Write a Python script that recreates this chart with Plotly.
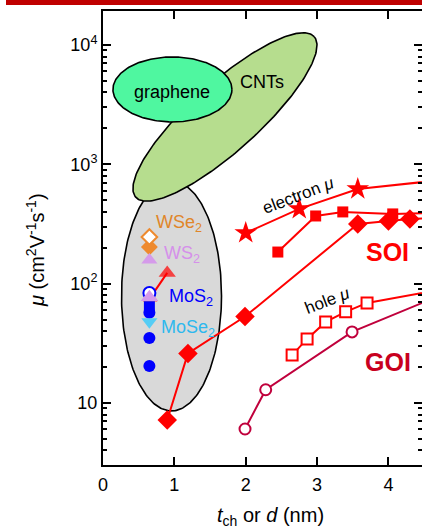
import numpy as np
import plotly.graph_objects as go

# ---------------- data ----------------
# Si-on-insulator, electron mobility (stars, filled squares, filled diamonds)
soi_star_x = [2.0, 2.75, 3.57, 5.0]
soi_star_y = [266, 423, 621, 767]
soi_square_x = [2.45, 2.98, 3.36, 4.06, 4.7]
soi_square_y = [184, 369, 399, 384, 392]
soi_diamond_x = [0.9, 1.19, 1.99, 3.57, 4.0, 4.3, 4.7]
soi_diamond_y = [7.2, 26, 53, 316, 335, 348, 356]

# Si-on-insulator, hole mobility (open squares)
soi_hole_x = [2.65, 2.86, 3.12, 3.40, 3.70, 4.9]
soi_hole_y = [25.2, 34.4, 47.8, 58, 68.9, 93]

# Ge-on-insulator (open circles)
goi_x = [1.99, 2.28, 3.49, 4.9]
goi_y = [6.05, 12.9, 39.4, 88]

# 2D transition-metal dichalcogenides
tmd_x = 0.65
wse2_open_y = [246]
wse2_fill_y = [203]
ws2_y = [158, 77]
mos2_open_y = [83.5]
mos2_square_y = [64]
mos2_fill_y = [57, 35, 20.4]
mose2_y = [48]
red_tri_x = [0.66, 0.9]
red_tri_y = [76, 123]

# axes
x_range = [0, 4.47]
y_range_log = [0.48, 4.285]
x_tickvals = [0, 1, 2, 3, 4]
x_ticktext = ["0", "1", "2", "3", "4"]
y_tickvals = [10, 100, 1000, 10000]
y_ticktext = ["10", "10<sup>2</sup>", "10<sup>3</sup>", "10<sup>4</sup>"]
y_minorvals = [k * 10 ** d for d in range(0, 5) for k in range(2, 10)]

# ---------------- layout geometry ----------------
W, H = 422, 530
M_L, M_R, M_T, M_B = 103, 0, 11, 65
PW, PH = W - M_L - M_R, H - M_T - M_B
PX_PER_X = PW / (x_range[1] - x_range[0])
PX_PER_DEC = PH / (y_range_log[1] - y_range_log[0])

FONT = "Arial, Liberation Sans, sans-serif"
RED = "#FF0000"
GOI_RED = "#C0003C"


def ellipse(cx, cy, a_px, b_px, ang_deg=0.0, n=240):
    """Outline of an ellipse whose size is given in screen pixels,
    returned in data coordinates of the linear-x / log-y axes."""
    t = np.linspace(0, 2 * np.pi, n)
    th = np.deg2rad(ang_deg)
    dx = a_px * np.cos(t) * np.cos(th) - b_px * np.sin(t) * np.sin(th)
    dy = a_px * np.cos(t) * np.sin(th) + b_px * np.sin(t) * np.cos(th)
    xs = cx + dx / PX_PER_X
    ys = 10 ** (np.log10(cy) + dy / PX_PER_DEC)
    return xs, ys


fig = go.Figure()

# material regions
regions = [
    dict(c=(0.96, 78.9), a=50, b=115, ang=0, fill="#D9D9D9"),
    dict(c=(1.709, 2495), a=120, b=34, ang=42, fill="#B6DD8E"),
    dict(c=(0.973, 4240), a=59.5, b=32.5, ang=0, fill="#4FF7A0"),
]
for r in regions:
    ex, ey = ellipse(r["c"][0], r["c"][1], r["a"], r["b"], r["ang"])
    fig.add_trace(go.Scatter(x=ex, y=ey, mode="lines", fill="toself",
                             fillcolor=r["fill"],
                             line=dict(color="black", width=1.6),
                             hoverinfo="skip", showlegend=False))


def series(x, y, symbol, color, size, line=None, fill=True, lw=2, mcolor=None):
    fig.add_trace(go.Scatter(
        x=x, y=y,
        mode="lines+markers" if line else "markers",
        line=dict(color=line, width=lw) if line else None,
        marker=dict(symbol=symbol, size=size,
                    color=(mcolor or color) if fill else "white",
                    line=dict(color=color, width=0 if fill else 2)),
        showlegend=False, cliponaxis=True))


# SOI / GOI curves
series(goi_x, goi_y, "circle", GOI_RED, 11, line=GOI_RED, fill=False)
series(soi_hole_x, soi_hole_y, "square", RED, 11, line=RED, fill=False)
series(soi_diamond_x, soi_diamond_y, "diamond", RED, 15, line=RED)
series(soi_square_x, soi_square_y, "square", RED, 11, line=RED)
series(soi_star_x, soi_star_y, "star", RED, 17, line=RED)

# TMD points
series(red_tri_x, red_tri_y, "triangle-up", RED, 15, line=RED, fill=False)
fig.data[-1].marker.color = ["white", RED]
fig.data[-1].marker.line.width = [1.5, 0]
fig.data[-1].marker.size = [12, 15]
series([tmd_x], wse2_fill_y, "diamond", "#EE8A2E", 13)
series([tmd_x], wse2_open_y, "diamond", "#EE8A2E", 12, fill=False)
series([tmd_x] * 2, ws2_y, "triangle-up", "#D59BEA", 14)
series([tmd_x], mos2_open_y, "circle", "#0000FF", 12, fill=False)
series([tmd_x], [ws2_y[1]], "triangle-up", "#D59BEA", 15)
series([tmd_x], mos2_square_y, "square", "#0000FF", 11)
series([tmd_x] * 3, mos2_fill_y, "circle", "#0000FF", 12)
series([tmd_x], mose2_y, "triangle-down", "#55CDF5", 14)

# right-hand tick marks (no axis line)
fig.add_trace(go.Scatter(x=[None], y=[None], yaxis="y2", showlegend=False,
                         hoverinfo="skip"))


def label(x, y, text, color="black", size=18, xanchor="center", angle=0,
          bold=False):
    fig.add_annotation(x=x, y=np.log10(y), xref="x", yref="y",
                       text=f"<b>{text}</b>" if bold else text,
                       showarrow=False, xanchor=xanchor, yanchor="middle",
                       textangle=angle,
                       font=dict(family=FONT, size=size, color=color))


label(0.966, 10 ** 3.606, "graphene", size=18)
label(2.227, 10 ** 3.690, "CNTs", size=18)
label(0.72, 10 ** 2.508, "WSe<sub>2</sub>", "#E0862A", 18, "left")
label(0.83, 10 ** 2.245, "WS<sub>2</sub>", "#D590EA", 18, "left")
label(0.90, 10 ** 1.880, "MoS<sub>2</sub>", "#0000FF", 18, "left")
label(0.79, 10 ** 1.625, "MoSe<sub>2</sub>", "#2EB8EE", 18, "left")
label(2.74, 10 ** 2.735, "electron <i>μ</i>", size=17, angle=-21)
label(3.15, 10 ** 1.860, "hole <i>μ</i>", size=17, angle=-21)
label(3.98, 10 ** 2.265, "SOI", RED, 25, bold=True)
label(3.99, 10 ** 1.345, "GOI", "#C8001E", 25, bold=True)

# axis titles
fig.add_annotation(xref="paper", yref="paper",
                   x=(35 - M_L) / PW, y=1 - (250 - M_T) / PH,
                   xanchor="center", yanchor="middle",
                   text="<i>μ</i> (cm<sup>2</sup>V<sup>-1</sup>s<sup>-1</sup>)",
                   textangle=-90, showarrow=False,
                   font=dict(family=FONT, size=20, color="black"))
fig.add_annotation(xref="paper", yref="paper",
                   x=(270 - M_L) / PW, y=1 - (516 - M_T) / PH,
                   xanchor="center", yanchor="middle",
                   text="<i>t</i><sub>ch</sub> or <i>d</i> (nm)",
                   showarrow=False,
                   font=dict(family=FONT, size=20, color="black"))

# red banner across the top
fig.add_shape(type="rect", xref="paper", yref="paper",
              x0=(6 - M_L) / PW, x1=1.01,
              y0=1 + (M_T - 5) / PH, y1=1 + (M_T + 2) / PH,
              fillcolor="#C00000", line=dict(width=0), layer="above")

axis_common = dict(showgrid=False, zeroline=False, color="black",
                   tickfont=dict(family=FONT, size=18, color="black"))
minor = dict(tickvals=y_minorvals, ticks="inside", ticklen=4,
             tickwidth=1.5, tickcolor="black", showgrid=False)

fig.update_layout(
    width=W, height=H,
    margin=dict(l=M_L, r=M_R, t=M_T, b=M_B, pad=0),
    plot_bgcolor="white", paper_bgcolor="white",
    showlegend=False,
    xaxis=dict(range=x_range, tickvals=x_tickvals, ticktext=x_ticktext,
               ticks="inside", ticklen=8, tickwidth=2, tickcolor="black",
               showline=True, linewidth=2, linecolor="black", mirror="ticks",
               ticklabelstandoff=2, **axis_common),
    yaxis=dict(type="log", range=y_range_log, tickvals=y_tickvals,
               ticktext=y_ticktext, ticks="inside", ticklen=8, tickwidth=2,
               tickcolor="black", showline=True, linewidth=2,
               linecolor="black", minor=minor, **axis_common),
    yaxis2=dict(type="log", range=y_range_log, overlaying="y", side="right",
                anchor="x", tickvals=y_tickvals, ticks="inside", ticklen=8,
                tickwidth=2, tickcolor="black", showticklabels=False,
                showline=False, minor=minor, showgrid=False, zeroline=False),
)

fig.write_html("out.html")
